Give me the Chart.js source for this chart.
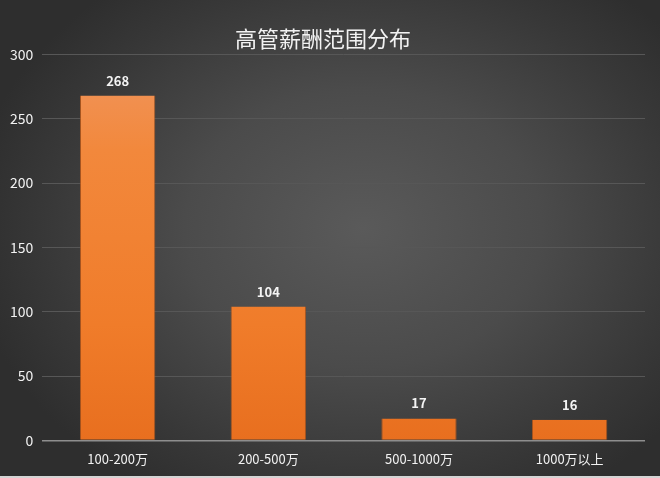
<!DOCTYPE html>
<html><head><meta charset="utf-8">
<script src="https://cdn.jsdelivr.net/npm/chart.js@4"></script>
<style>
html,body{margin:0;padding:0;background:#d4d4d4;}
#wrap{width:660px;height:476px;position:relative;
background:radial-gradient(ellipse 60% 65% at 55% 48%, #5a5a5a 0%, #4b4b4b 45%, #383838 80%, #2e2e2e 100%);}
</style></head>
<body>
<div id="wrap"><canvas id="c" width="660" height="476"></canvas></div>
<script>
const categories = ["100-200万", "200-500万", "500-1000万", "1000万以上"];
const counts = [268, 104, 17, 16];
const yTicks = [0, 50, 100, 150, 200, 250, 300];
const titleText = "高管薪酬范围分布";

const labelFont = "'Noto Sans CJK SC', 'Noto Sans', sans-serif";

const valueLabels = {
  id: 'valueLabels',
  afterDatasetsDraw(chart) {
    const ctx = chart.ctx;
    const meta = chart.getDatasetMeta(0);
    ctx.save();
    ctx.fillStyle = '#f4f4f4';
    ctx.font = "bold 13px " + labelFont;
    ctx.textAlign = 'center';
    ctx.textBaseline = 'middle';
    meta.data.forEach((bar, i) => {
      ctx.fillText(String(counts[i]), bar.x, bar.y - 15);
    });
    ctx.restore();
  }
};

new Chart(document.getElementById('c'), {
  type: 'bar',
  data: {
    labels: categories,
    datasets: [{
      data: counts,
      backgroundColor(ctx) {
        const ca = ctx.chart.chartArea;
        if (!ca) return '#ef7a2a';
        const g = ctx.chart.ctx.createLinearGradient(0, ca.top, 0, ca.bottom);
        g.addColorStop(0, '#f0965f');
        g.addColorStop(0.25, '#f2883c');
        g.addColorStop(0.7, '#f07c2a');
        g.addColorStop(1, '#e86f1f');
        return g;
      },
      borderColor: 'rgba(190,90,25,0.8)',
      borderWidth: {left:1, right:1, top:0, bottom:0},
      borderSkipped: false,
      categoryPercentage: 1.0,
      barPercentage: 0.5
    }]
  },
  options: {
    responsive: false,
    animation: false,
    layout: { padding: { left: 1, right: 15, top: 0, bottom: 6 } },
    plugins: {
      legend: { display: false },
      tooltip: { enabled: false },
      title: {
        display: true,
        text: titleText,
        color: '#f2f2f2',
        font: { size: 22, family: "'Noto Sans CJK SC', sans-serif", weight: 'normal', lineHeight: 1.2 },
        padding: { top: 25, bottom: 3 }
      }
    },
    scales: {
      x: {
        grid: { display: false },
        border: { display: false },
        ticks: { color: '#f2f2f2', font: { size: 13, family: labelFont, lineHeight: 1.2 }, padding: 3 }
      },
      y: {
        min: 0, max: 300,
        afterBuildTicks(axis) { axis.ticks = yTicks.map(v => ({ value: v })); },
        grid: {
          color: (c) => c.tick && c.tick.value === 0 ? '#8e8e8e' : '#575757',
          lineWidth: (c) => c.tick && c.tick.value === 0 ? 1.5 : 1,
          drawTicks: false
        },
        border: { display: false },
        ticks: { color: '#f2f2f2', font: { size: 14, family: labelFont, lineHeight: 1.2 }, padding: 9 }
      }
    }
  },
  plugins: [valueLabels]
});
</script>
</body></html>
